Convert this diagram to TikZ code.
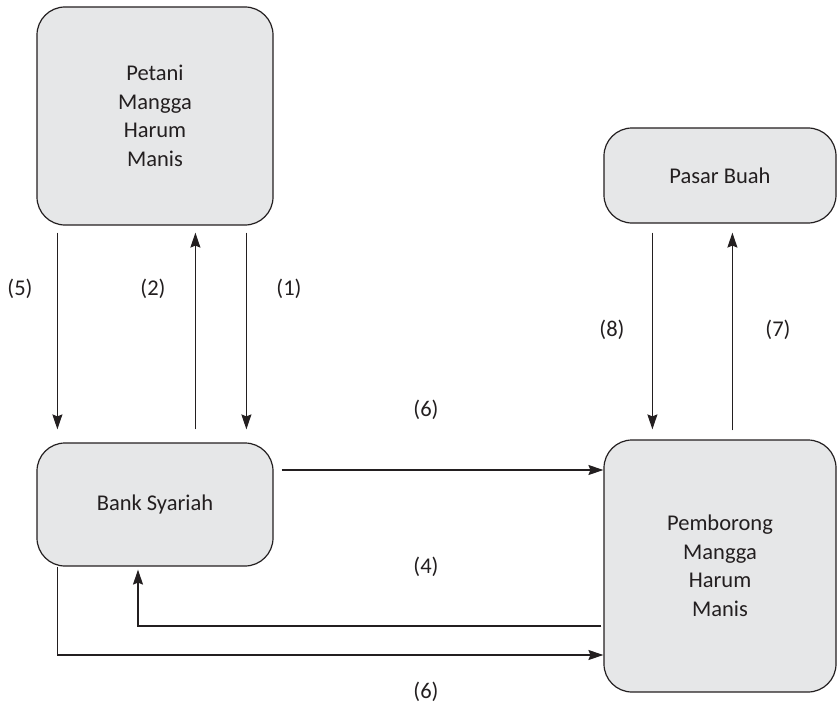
\documentclass[tikz,border=0pt]{standalone}
\usepackage{fontspec}
\setmainfont{Carlito}
\usetikzlibrary{arrows.meta}
\definecolor{boxfill}{HTML}{E6E7E8}
\definecolor{ink}{HTML}{231F20}
\begin{document}
\begin{tikzpicture}[x=1pt,y=-1pt,
  box/.style={draw=ink, line width=1.2pt, fill=boxfill, rounded corners=28pt,
    align=center, text=ink, inner sep=0pt, font=\fontsize{22.5}{28.5}\selectfont},
  lbl/.style={text=ink, inner sep=0pt, font=\fontsize{22.5}{28}\selectfont},
  arr/.style={draw=ink, line width=1.2pt, -{Stealth[length=15pt,width=10pt,inset=2pt]}},
  ln/.style={draw=ink, line width=1.2pt}]
\useasboundingbox (0,0) rectangle (838,706);
% boxes
\node[box, minimum width=236pt, minimum height=218pt] (petani) at (155,116) {Petani\\Mangga\\Harum\\Manis};
\node[box, minimum width=236pt, minimum height=123pt] (bank) at (155,504.5) {Bank Syariah};
\node[box, minimum width=232pt, minimum height=95pt] (pasar) at (720,175.5) {Pasar Buah};
\node[box, minimum width=232pt, minimum height=252pt] (pemb) at (720,566) {Pemborong\\Mangga\\Harum\\Manis};
% vertical arrows between Petani and Bank
\draw[arr] ([xshift=21pt,yshift=-7pt]petani.south west) -- ([xshift=21pt,yshift=13pt]bank.north west);
\draw[arr] ([xshift=159pt,yshift=13pt]bank.north west) -- ([xshift=159pt,yshift=-7pt]petani.south west);
\draw[arr] ([xshift=210pt,yshift=-7pt]petani.south west) -- ([xshift=210pt,yshift=13pt]bank.north west);
% vertical arrows between Pasar and Pemborong
\draw[arr] ([xshift=49pt,yshift=-9pt]pasar.south west) -- ([xshift=49pt,yshift=10pt]pemb.north west);
\draw[arr] ([xshift=129pt,yshift=9pt]pemb.north west) -- ([xshift=129pt,yshift=-9pt]pasar.south west);
% horizontal connectors
\draw[arr, shorten <=8pt] (bank.east |- 0,470) -- (pemb.west |- 0,470);
\draw[arr, shorten <=2pt] (pemb.west |- 0,626) -| ([xshift=-17pt,yshift=-3pt]bank.south);
\draw[arr] ([xshift=21pt]bank.south west) |- (pemb.west |- 0,655);
% labels
\node[lbl] (l5) at (20,289) {(5)};
\node[lbl] (l2) at (153,289) {(2)};
\node[lbl] (l1) at (289,289) {(1)};
\node[lbl] (l8) at (612,330) {(8)};
\node[lbl] (l7) at (778,330) {(7)};
\node[lbl] (l6a) at (426,410) {(6)};
\node[lbl] (l4) at (426,567) {(4)};
\node[lbl] (l6b) at (426,692) {(6)};
\end{tikzpicture}
\end{document}
